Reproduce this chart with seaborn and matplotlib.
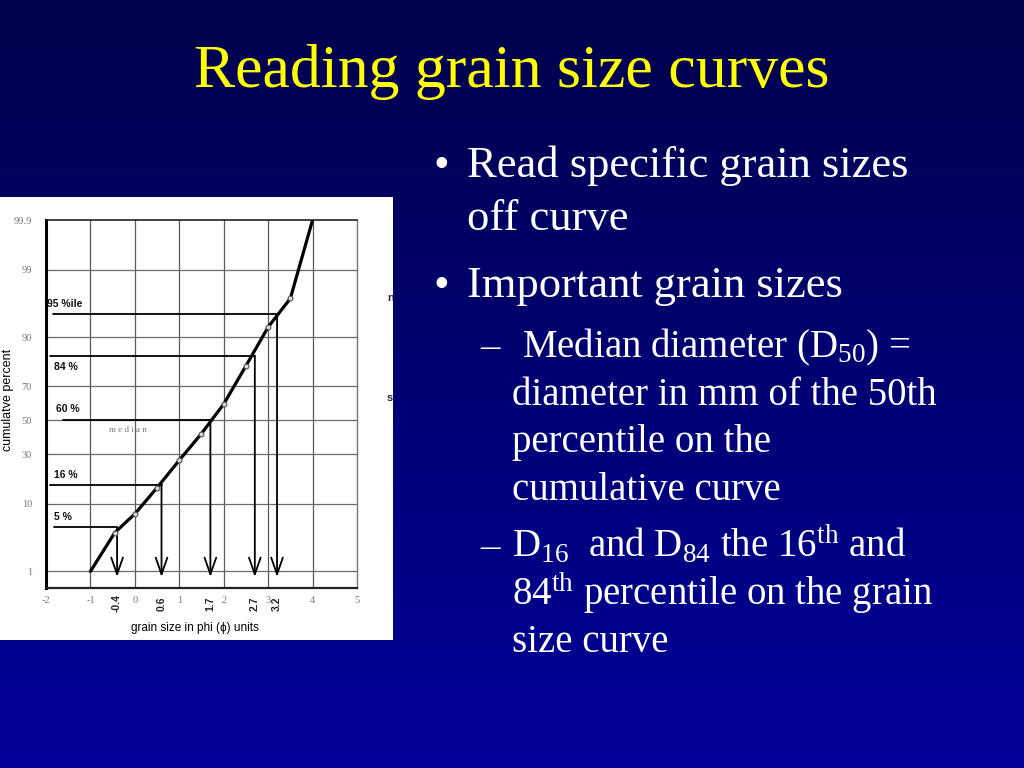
import numpy as np
import matplotlib
matplotlib.use('Agg')
from matplotlib import pyplot as plt
from matplotlib.colors import LinearSegmentedColormap
from matplotlib.transforms import blended_transform_factory
from statistics import NormalDist
import pandas as pd
import seaborn as sns


# grain size curve
phi = [-1.0, -0.45, 0.0, 0.5, 1.0, 1.5, 2.0, 2.5, 3.0, 3.5, 4.0]
cum_pct = [1.0, 4.2, 7.5, 15.0, 27.0, 42.0, 60.0, 80.0, 92.5, 97.0, 99.9]

# percentiles picked off the curve
pct_levels = [5, 16, 50, 84, 95]
pct_phi = [-0.4, 0.6, 1.7, 2.7, 3.2]
pct_labels = ['5 %', '16 %', '60 %', '84 %', '95 %ile']
pct_phi_labels = ['-0.4', '0.6', '1.7', '2.7', '3.2']

phi_ticks = [-2, -1, 0, 1, 2, 3, 4, 5]
phi_tick_labels = ['-2', '-1', '0', '1', '2', '3', '4', '5']
prob_ticks = [1, 10, 30, 50, 70, 90, 99, 99.9]
prob_tick_labels = ['1', '10', '30', '50', '70', '90', '99', '99.9']
prob_grid = [1, 10, 30, 50, 70, 90, 99]

title = 'Reading grain size curves'

W, H = 1024, 768


def px(x, y):
	# slide pixels -> figure fraction
	return x / W, 1 - y / H


_nd = NormalDist()


def prob_fwd(p):
	p = np.clip(np.asarray(p, dtype=float) / 100.0, 1e-9, 1 - 1e-9)
	return np.vectorize(_nd.inv_cdf, otypes=[float])(p)


def prob_inv(z):
	z = np.asarray(z, dtype=float)
	return np.vectorize(_nd.cdf, otypes=[float])(z) * 100.0


sns.set_theme(style='white')
plt.rcParams['font.family'] = ['Liberation Serif', 'DejaVu Serif']
plt.rcParams['mathtext.fontset'] = 'custom'
plt.rcParams['mathtext.rm'] = 'Liberation Serif'
plt.rcParams['mathtext.default'] = 'regular'

fig = plt.figure(figsize=(10.24, 7.68), dpi=100)

# slide background gradient
bg = fig.add_axes([0, 0, 1, 1])
cmap = LinearSegmentedColormap.from_list('slide', ['#00004c', '#00009a'])
bg.imshow(np.linspace(0, 1, 256).reshape(-1, 1), cmap=cmap, aspect='auto',
	extent=[0, W, H, 0])
bg.set_xlim(0, W)
bg.set_ylim(H, 0)
bg.axis('off')

# white picture panel
panel = fig.add_axes([0, 1 - 640 / H, 393 / W, 443 / H])
panel.set_facecolor('white')
panel.set_xticks([])
panel.set_yticks([])
for s in panel.spines.values():
	s.set_visible(False)
# letters cut off at the picture edge
panel.text(0.985, 1 - (298 - 197) / 443, 'n', transform=panel.transAxes,
	fontsize=8, fontweight='bold', family='Liberation Sans', va='center',
	clip_on=True)
panel.text(0.985, 1 - (398 - 197) / 443, 's', transform=panel.transAxes,
	fontsize=8, fontweight='bold', family='Liberation Sans', va='center',
	clip_on=True)

# the grain size chart
ax = fig.add_axes([46 / W, 1 - 588 / H, (357 - 46) / W, (588 - 220) / H])
ax.set_facecolor('white')
ax.set_yscale('function', functions=(prob_fwd, prob_inv))
ax.set_xlim(-2, 5)
ax.set_ylim(0.49, 99.9)

for x in phi_ticks[1:-1]:
	ax.axvline(x, color='#5a5a5a', lw=0.9, zorder=1)
for y in prob_grid:
	ax.axhline(y, color='#6a6a6a', lw=0.9, zorder=1)

df = pd.DataFrame({'phi': phi, 'pct': cum_pct})
sns.lineplot(data=df, x='phi', y='pct', ax=ax, color='black', lw=2.3,
	marker='o', markevery=list(range(1, len(phi) - 1)), ms=3.5,
	mfc='#d8d8d8', mec='#555555', mew=0.8, zorder=4)

line_start = [-1.82, -1.91, -1.62, -1.91, -1.84]
label_x = [-1.82, -1.82, -1.78, -1.82, -1.97]
label_off = [5, 5, 6, -16, 5]
for lvl, p, x0, lx, lab, off in zip(pct_levels, pct_phi, line_start, label_x,
		pct_labels, label_off):
	ax.plot([x0, p], [lvl, lvl], color='black', lw=1.3, zorder=3)
	ax.annotate('', xy=(p, 0.79), xytext=(p, lvl),
		arrowprops=dict(arrowstyle='->,head_length=1.0,head_width=0.35',
			color='black', lw=1.3, shrinkA=0, shrinkB=0), zorder=3)
	ax.annotate(lab, xy=(lx, lvl), xytext=(0, off), textcoords='offset pixels',
		fontsize=7.5, fontweight='bold', family='Liberation Sans',
		color='#111111', va='bottom')

ax.text(-0.15, 44, 'm e d i a n', fontsize=6.5, color='#777777', ha='center',
	va='center')

trans = blended_transform_factory(ax.transData, ax.transAxes)
for p, lab in zip(pct_phi, pct_phi_labels):
	ax.text(p, -0.042, lab, transform=trans, rotation=90, ha='center',
		va='center', fontsize=7.5, fontweight='bold', family='Liberation Sans',
		color='#222222')

ax.set_xticks(phi_ticks)
ax.set_xticklabels(phi_tick_labels)
ax.set_yticks(prob_ticks)
ax.set_yticklabels(prob_tick_labels)
ax.minorticks_off()
ax.tick_params(axis='y', length=0, pad=10, labelsize=7.5, labelcolor='#777777')
ax.tick_params(axis='x', length=0, pad=6, labelsize=7.5, labelcolor='#777777')
ax.set_xlabel('')
ax.set_ylabel('')
ax.spines['left'].set_linewidth(2.2)
ax.spines['left'].set_color('black')
ax.spines['bottom'].set_linewidth(1.6)
ax.spines['bottom'].set_color('#222222')
ax.spines['top'].set_linewidth(1.2)
ax.spines['top'].set_color('#222222')
ax.spines['right'].set_linewidth(1.0)
ax.spines['right'].set_color('#777777')

fig.text(*px(8, 400), 'cumulatve percent', rotation=90, ha='center',
	va='center', fontsize=9, family='Liberation Sans', color='black')
fig.text(*px(195, 628), 'grain size in phi (\u03d5) units', ha='center',
	va='center', fontsize=8.5, family=['Liberation Sans', 'DejaVu Sans'],
	color='black')

# slide text
fig.text(*px(512, 87), title, ha='center', va='baseline', fontsize=44.5,
	color='#ffff00')

bullets = [
	(433, 467, 177, '\u2022', 'Read specific grain sizes', 32),
	(None, 467, 230, None, 'off curve', 32),
	(433, 467, 297, '\u2022', 'Important grain sizes', 32),
	(480, 522, 357, '\u2013', 'Median diameter (D$_{50}$) =', 28),
	(None, 512, 405, None, 'diameter in mm of the 50th', 28),
	(None, 512, 452, None, 'percentile on the', 28),
	(None, 512, 500, None, 'cumulative curve', 28),
	(480, 512, 557, '\u2013', 'D$_{16}$  and D$_{84}$ the 16$^{th}$ and', 28),
	(None, 512, 605, None, '84$^{th}$ percentile on the grain', 28),
	(None, 512, 652, None, 'size curve', 28),
]
for bx, tx, y, mark, txt, size in bullets:
	if mark:
		fig.text(*px(bx, y), mark, va='baseline', fontsize=size, color='white')
	fig.text(*px(tx, y), txt, va='baseline', fontsize=size, color='white')

plt.savefig('out.png', dpi=100)
